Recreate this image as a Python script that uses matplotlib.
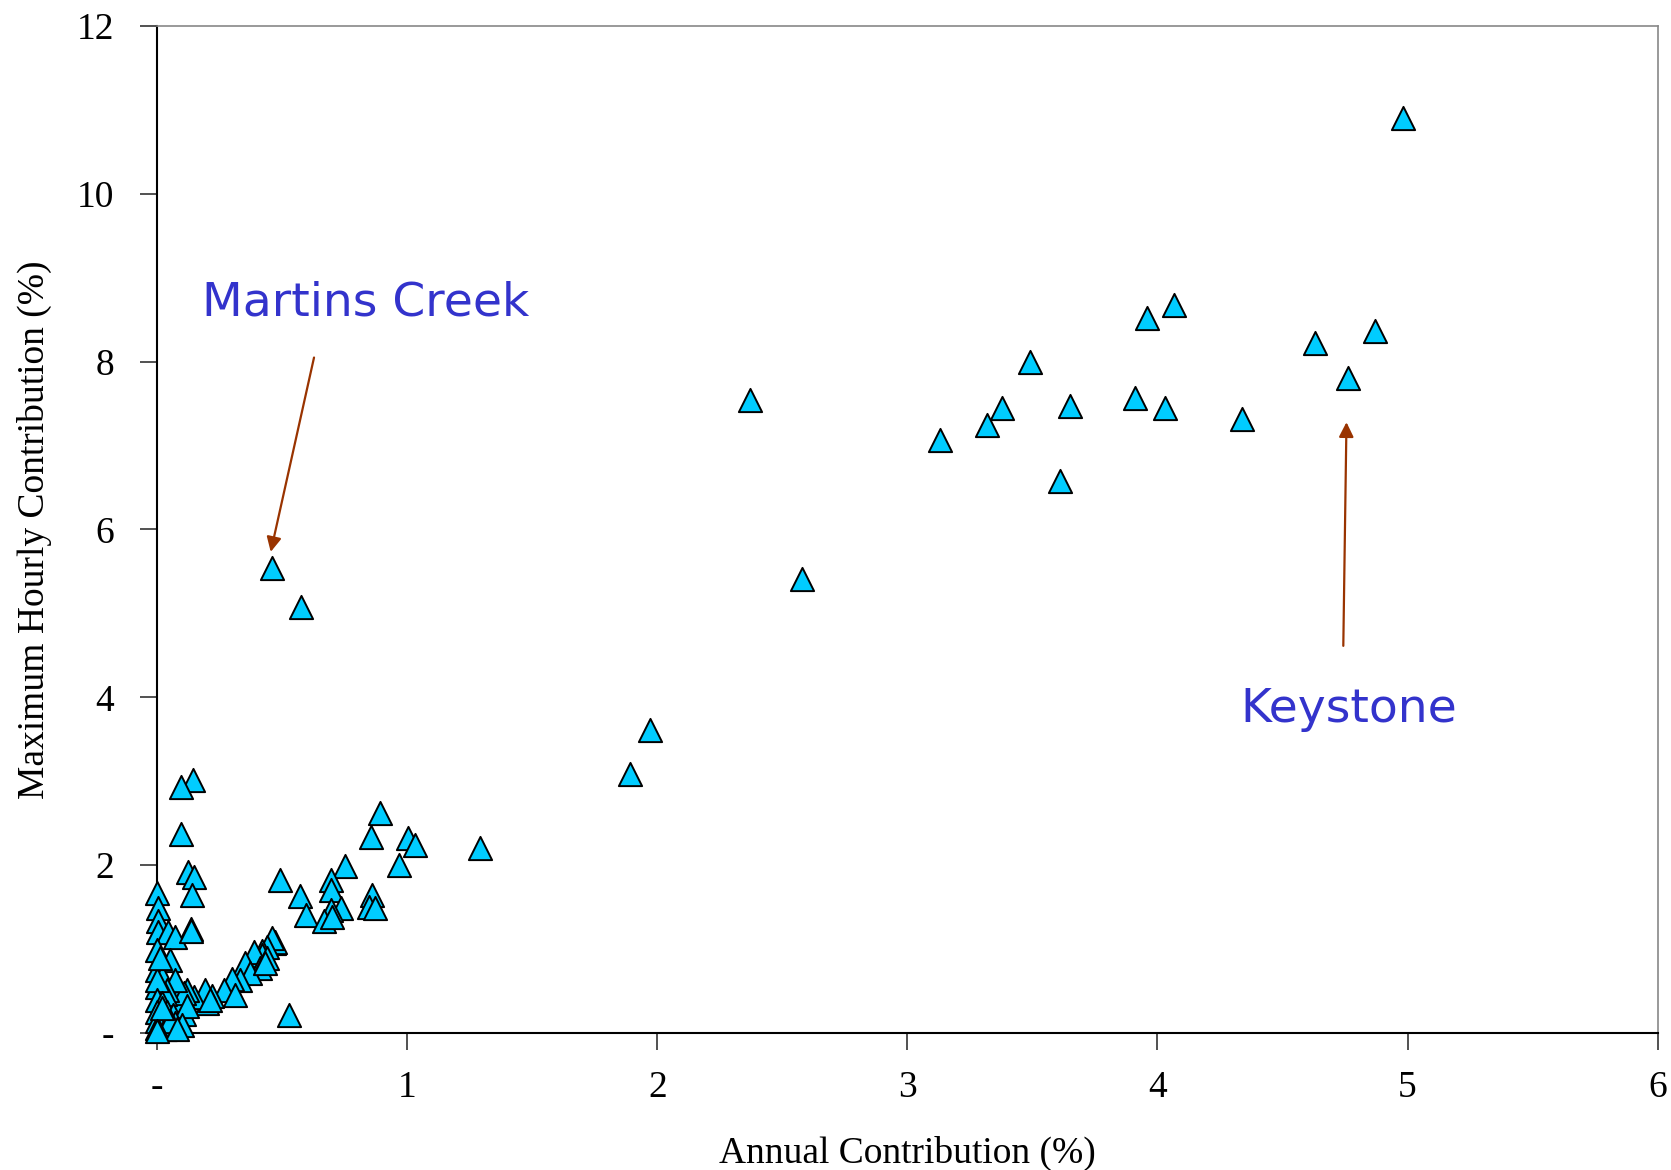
import numpy as np
import matplotlib
matplotlib.use("Agg")
from matplotlib import pyplot as plt

# annual contribution (%) vs maximum hourly contribution (%), one point per source
annual = [
    4.98, 4.065, 3.96, 4.87, 4.63, 3.49, 4.76, 2.37, 3.91, 3.65, 3.38, 4.03, 4.34, 3.32, 3.13, 3.61,
    0.46, 0.575, 2.58, 1.97, 1.89,
    1.29, 0.893, 0.857, 1.004, 1.03, 0.75, 0.969, 0.493, 0.696, 0.696, 0.57, 0.86, 0.846, 0.873,
    0.737, 0.696, 0.596, 0.666, 0.70, 0.527,
    0.145, 0.094, 0.094, 0.124, 0.146, 0.14, 0.136,
    0.466, 0.473, 0.46, 0.44, 0.42, 0.42, 0.386, 0.353, 0.41, 0.37, 0.333, 0.30, 0.266, 0.22, 0.20,
    0.193, 0.146, 0.106, 0.08, 0.44, 0.43, 0.31, 0.213, 0.12, 0.106,
    0.0, 0.005, 0.005, 0.005, 0.045, 0.073, 0.136, 0.0, 0.053, 0.0, 0.02, 0.073, 0.0, 0.04, 0.03,
    0.0, 0.0, 0.02, 0.0, 0.04, 0.065, 0.106, 0.12, 0.07, 0.10, 0.0, 0.03, 0.05, 0.0, 0.01, 0.02,
    0.08, 0.0,
]
max_hourly = [
    10.90, 8.67, 8.52, 8.36, 8.22, 7.99, 7.80, 7.54, 7.56, 7.47, 7.45, 7.45, 7.31, 7.24, 7.07, 6.58,
    5.54, 5.07, 5.41, 3.61, 3.09,
    2.20, 2.62, 2.34, 2.32, 2.24, 1.99, 2.00, 1.82, 1.82, 1.70, 1.63, 1.64, 1.50, 1.49,
    1.49, 1.47, 1.41, 1.33, 1.38, 0.21,
    3.02, 2.93, 2.37, 1.92, 1.86, 1.64, 1.24,
    1.07, 1.09, 1.13, 1.03, 0.98, 0.93, 0.97, 0.83, 0.78, 0.72, 0.63, 0.65, 0.51, 0.44, 0.36,
    0.51, 0.43, 0.39, 0.39, 0.90, 0.83, 0.45, 0.40, 0.51, 0.48,
    1.67, 1.49, 1.33, 1.21, 1.21, 1.15, 1.22, 0.99, 0.87, 0.75, 0.67, 0.63, 0.55, 0.51, 0.47,
    0.63, 0.39, 0.36, 0.25, 0.25, 0.21, 0.23, 0.32, 0.12, 0.10, 0.15, 0.05, 0.15, 0.06, 0.90, 0.30,
    0.05, 0.02,
]

x_ticks = [0, 1, 2, 3, 4, 5, 6]
x_labels = ['-', '1', '2', '3', '4', '5', '6']
y_ticks = [0, 2, 4, 6, 8, 10, 12]
y_labels = ['-', '2', '4', '6', '8', '10', '12']

fig = plt.figure(figsize=(16.71, 11.70), dpi=100)
ax = fig.add_axes([0.094, 0.117, 0.898, 0.861])

ax.scatter(annual, max_hourly, marker='^', s=280, c='#00CCFF',
           edgecolors='black', linewidths=1.4, clip_on=False, zorder=3)

ax.set_xlim(0, 6)
ax.set_ylim(0, 12)
ax.set_xticks(x_ticks)
ax.set_xticklabels(x_labels)
ax.set_yticks(y_ticks)
ax.set_yticklabels(y_labels)

serif = 'Liberation Serif'
for lab in ax.get_xticklabels() + ax.get_yticklabels():
    lab.set_fontfamily(serif)
    lab.set_fontsize(27)
ax.tick_params(axis='both', direction='out', length=12, width=1.2, color='#333333')
ax.tick_params(axis='y', pad=19)
ax.tick_params(axis='x', pad=15)

ax.set_xlabel('Annual Contribution (%)', family=serif, fontsize=27, labelpad=22)
ax.set_ylabel('Maximum Hourly Contribution (%)', family=serif, fontsize=27, labelpad=18)

for side in ['left', 'bottom']:
    ax.spines[side].set_color('black')
    ax.spines[side].set_linewidth(1.5)
for side in ['top', 'right']:
    ax.spines[side].set_color('#888888')
    ax.spines[side].set_linewidth(1.2)

label_color = '#3333CC'
arrow_color = '#993300'
ax.text(0.18, 8.70, 'Martins Creek', color=label_color, fontsize=34,
        family='DejaVu Sans', ha='left', va='center')
ax.annotate('', xy=(0.452, 5.70), xytext=(0.63, 8.08),
            arrowprops=dict(arrowstyle='-|>', color=arrow_color, lw=1.6, mutation_scale=22))
ax.text(4.33, 3.86, 'Keystone', color=label_color, fontsize=34,
        family='DejaVu Sans', ha='left', va='center')
ax.annotate('', xy=(4.756, 7.31), xytext=(4.743, 4.58),
            arrowprops=dict(arrowstyle='-|>', color=arrow_color, lw=1.6, mutation_scale=22))

plt.savefig('out.png', dpi=100)
